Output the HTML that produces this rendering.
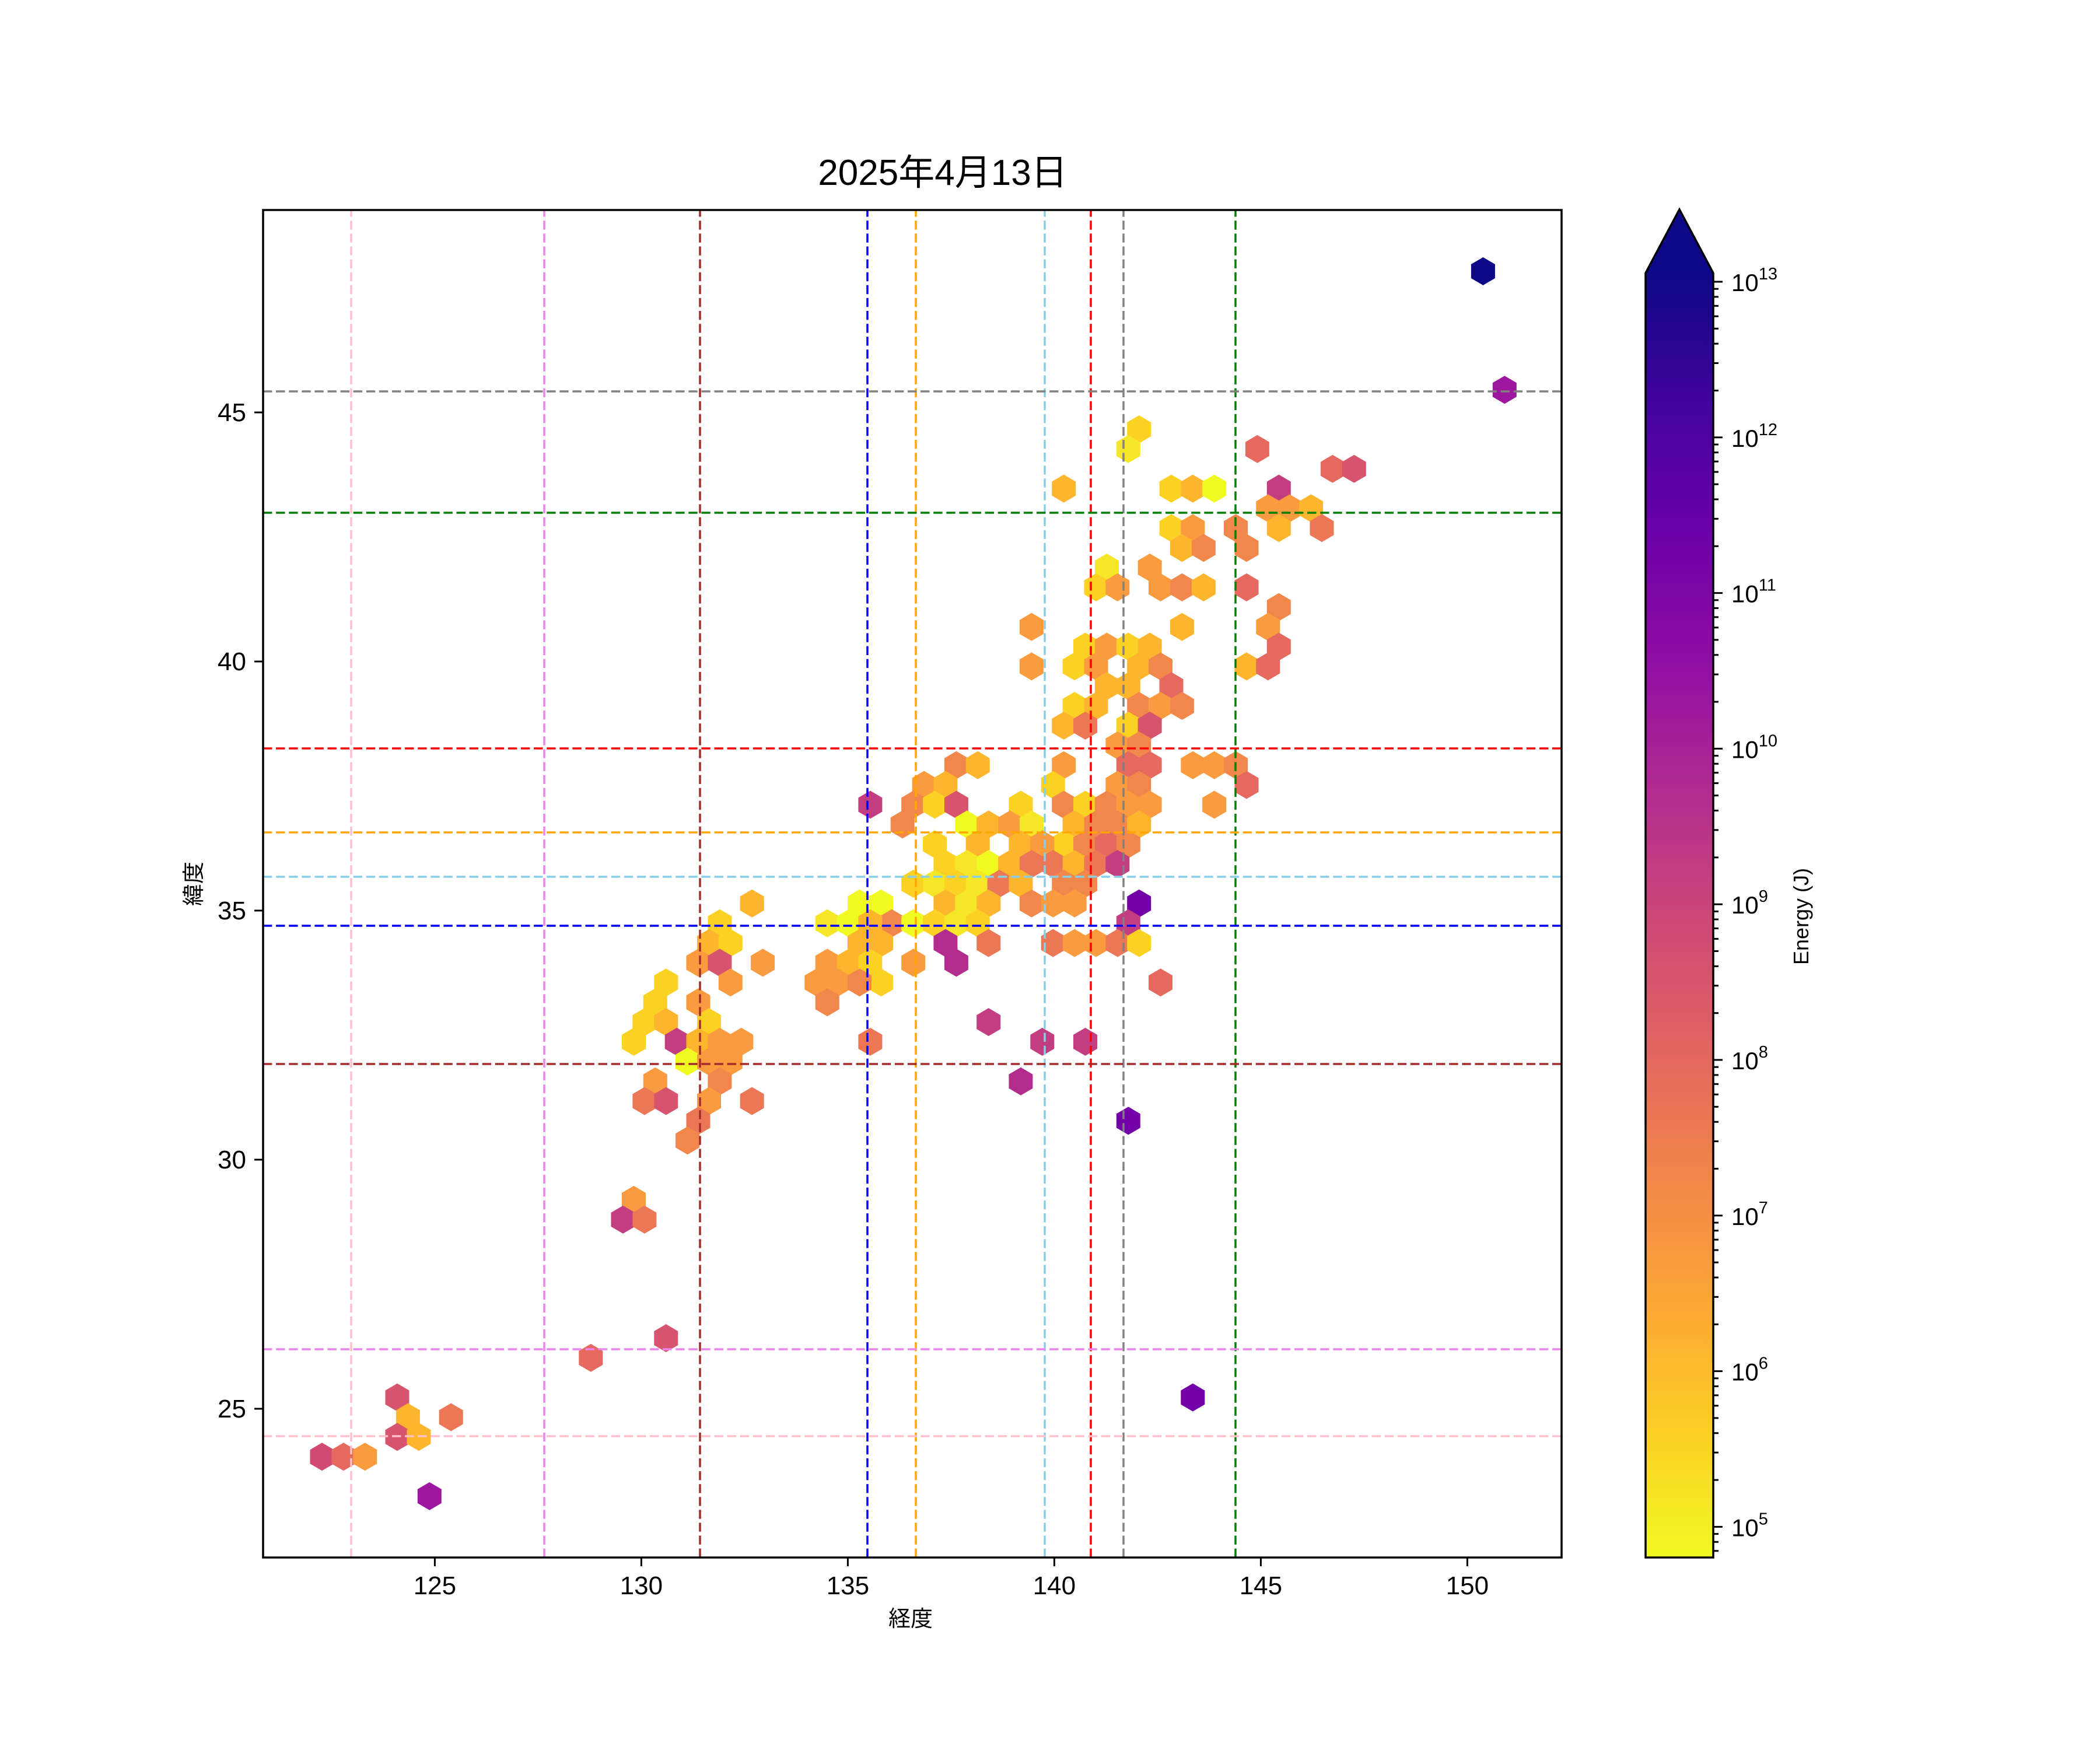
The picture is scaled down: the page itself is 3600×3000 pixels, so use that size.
<!DOCTYPE html>
<html><head><meta charset="utf-8">
<style>html,body{margin:0;padding:0;background:#fff;}svg{display:block;}</style>
</head><body>
<svg id="s" xmlns="http://www.w3.org/2000/svg" width="3600" height="3000" viewBox="0 0 3600 3000">
<defs>
<linearGradient id="pl" x1="0" y1="1" x2="0" y2="0">
<stop offset="0" stop-color="#f0f921"/><stop offset="0.1" stop-color="#fcce25"/><stop offset="0.2" stop-color="#fca636"/>
<stop offset="0.3" stop-color="#f2844b"/><stop offset="0.4" stop-color="#e16462"/><stop offset="0.5" stop-color="#cc4778"/>
<stop offset="0.6" stop-color="#b12a90"/><stop offset="0.7" stop-color="#8f0da4"/><stop offset="0.8" stop-color="#6a00a8"/>
<stop offset="0.9" stop-color="#41049d"/><stop offset="1" stop-color="#0d0887"/>
</linearGradient>
</defs>
<rect width="3600" height="3000" fill="#fff"/>
<g id="hex"></g>
<g id="lines" fill="none" stroke-width="3.5" stroke-dasharray="15.4 6.7">
<line x1="602" y1="2670" x2="602" y2="360" stroke="#ffc0cb"/>
<line x1="933" y1="2670" x2="933" y2="360" stroke="#ee82ee"/>
<line x1="1200" y1="2670" x2="1200" y2="360" stroke="#a52a2a"/>
<line x1="1487" y1="2670" x2="1487" y2="360" stroke="#0000ff"/>
<line x1="1570" y1="2670" x2="1570" y2="360" stroke="#ffa500"/>
<line x1="1791" y1="2670" x2="1791" y2="360" stroke="#87ceeb"/>
<line x1="1870" y1="2670" x2="1870" y2="360" stroke="#ff0000"/>
<line x1="1926" y1="2670" x2="1926" y2="360" stroke="#808080"/>
<line x1="2118" y1="2670" x2="2118" y2="360" stroke="#008000"/>
<line x1="451" y1="671" x2="2677" y2="671" stroke="#808080"/>
<line x1="451" y1="879" x2="2677" y2="879" stroke="#008000"/>
<line x1="451" y1="1283" x2="2677" y2="1283" stroke="#ff0000"/>
<line x1="451" y1="1427" x2="2677" y2="1427" stroke="#ffa500"/>
<line x1="451" y1="1503" x2="2677" y2="1503" stroke="#87ceeb"/>
<line x1="451" y1="1587" x2="2677" y2="1587" stroke="#0000ff"/>
<line x1="451" y1="1824" x2="2677" y2="1824" stroke="#a52a2a"/>
<line x1="451" y1="2313" x2="2677" y2="2313" stroke="#ee82ee"/>
<line x1="451" y1="2462" x2="2677" y2="2462" stroke="#ffc0cb"/>
</g>
<rect x="451" y="360" width="2226" height="2310" fill="none" stroke="#000" stroke-width="3.5"/>
<g id="ticks" stroke="#000" stroke-width="3"></g>
<g id="labels" font-family="Liberation Sans, DejaVu Sans, sans-serif" font-size="44" fill="#000"></g>
<text x="1616" y="317" font-family="Liberation Sans, Noto Sans CJK JP, sans-serif" font-size="62" text-anchor="middle">2025年4月13日</text>
<text x="1561" y="2788" font-family="Liberation Sans, Noto Sans CJK JP, sans-serif" font-size="38" text-anchor="middle">経度</text>
<text transform="translate(345,1515) rotate(-90)" font-family="Liberation Sans, Noto Sans CJK JP, sans-serif" font-size="38" text-anchor="middle">緯度</text>
<text transform="translate(3100,1571) rotate(-90)" font-family="Liberation Sans, DejaVu Sans, sans-serif" font-size="36" text-anchor="middle">Energy (J)</text>
<rect x="2821" y="468" width="116" height="2202" fill="url(#pl)"/>
<polygon points="2821,470 2879,359 2937,470" fill="#0d0887"/>
<polygon points="2821,2670 2821,468 2879,359 2937,468 2937,2670" fill="none" stroke="#000" stroke-width="3.5"/>
<g id="cb" stroke="#000" stroke-width="3"></g>
<g id="cbl" font-family="Liberation Sans, DejaVu Sans, sans-serif" fill="#000"></g>
</svg>
<script>
var C={Y1:'#f0f921',Y15:'#f5e627',Y2:'#fbd124',O1:'#fdb52e',O2:'#f99b3e',O3:'#f2874c',R0:'#eb7756',R1:'#e5695f',P1:'#d6546e',P0:'#cf4b74',M1:'#c33e80',M2:'#b22c8e',V1:'#9c179e',V2:'#7201a8',D:'#0d0887'};
var H=[
[1953,735,'Y2'],[1935,770,'Y15'],[2156,770,'R1'],[2285,803,'R1'],[2322,803,'P1'],
[1824,837,'O1'],[2009,837,'Y2'],[2045,837,'O1'],[2082,837,'Y1'],[2193,837,'M1'],
[2174,872,'O2'],[2211,872,'O2'],[2249,872,'O1'],
[2009,905,'Y2'],[2045,905,'O2'],[2120,905,'O3'],[2193,905,'O1'],[2267,905,'R0'],
[2027,939,'O1'],[2064,939,'O3'],[2138,939,'O3'],
[1898,973,'Y15'],[1972,973,'O2'],
[1879,1007,'Y2'],[1917,1007,'O2'],[1990,1007,'O2'],[2027,1007,'O3'],[2064,1007,'O1'],[2138,1007,'R1'],
[2193,1040,'O3'],[2027,1074,'O1'],[2174,1074,'O2'],
[1861,1108,'Y2'],[1898,1108,'O2'],[1934,1108,'Y2'],[1971,1108,'O1'],[2193,1108,'R1'],
[1842,1142,'Y2'],[1879,1142,'O2'],[1952,1142,'O1'],[1990,1142,'O3'],[2138,1142,'O1'],[2174,1142,'R1'],
[1898,1177,'O1'],[1934,1177,'O1'],[2008,1177,'R1'],
[1842,1210,'Y2'],[1879,1210,'O1'],[1952,1210,'O3'],[1990,1210,'O2'],[2027,1210,'O3'],
[1823,1243,'O1'],[1861,1243,'R0'],[1934,1243,'Y2'],[1971,1243,'P1'],
[1917,1278,'O2'],[1952,1278,'O3'],
[1823,1312,'O2'],[1934,1312,'R1'],[1971,1312,'R1'],[2046,1312,'O2'],[2082,1312,'O2'],[2119,1312,'O3'],
[1804,1345,'Y2'],[1917,1345,'O2'],[1952,1345,'O3'],[2138,1345,'R1'],
[1823,1380,'O3'],[1861,1380,'Y2'],[1898,1380,'O3'],[1934,1380,'O2'],[1971,1380,'O2'],[2082,1380,'O2'],
[1842,1413,'O1'],[1879,1413,'O3'],[1917,1413,'O3'],[1952,1413,'O1'],
[1823,1447,'Y2'],[1861,1447,'O3'],[1898,1447,'R1'],[1934,1447,'O3'],
[1640,1312,'O3'],[1677,1312,'O1'],
[1584,1346,'O2'],[1621,1346,'O1'],[1806,1346,'Y2'],
[1490,1378,'M1'],[1561,1379,'O3'],[1603,1379,'Y2'],[1640,1379,'P1'],[1750,1379,'Y2'],
[1548,1413,'O3'],[1657,1413,'Y1'],[1695,1413,'O1'],[1730,1413,'O2'],[1768,1413,'Y15'],
[1603,1447,'Y2'],[1677,1447,'O1'],[1750,1447,'O1'],[1787,1447,'O2'],
[1621,1480,'Y2'],[1657,1480,'Y15'],[1695,1480,'Y1'],[1730,1480,'O1'],[1768,1480,'R0'],[1806,1480,'R0'],[1842,1480,'O1'],[1878,1480,'R0'],[1915,1480,'M1'],
[1566,1515,'Y2'],[1603,1515,'Y15'],[1640,1515,'Y2'],[1677,1515,'Y15'],[1713,1515,'R0'],[1750,1515,'O1'],[1823,1515,'O3'],[1861,1515,'O3'],
[1511,1548,'Y1'],[1621,1548,'O1'],[1657,1548,'Y15'],[1695,1548,'O1'],[1768,1548,'O3'],[1806,1548,'O2'],[1842,1548,'O2'],[1953,1548,'V2'],
[1528,1582,'O3'],[1566,1582,'Y1'],[1603,1582,'Y2'],[1640,1582,'Y15'],[1677,1582,'Y2'],[1933,1582,'M1'],
[1510,1617,'O1'],[1621,1617,'M2'],[1695,1617,'R0'],[1806,1617,'R0'],[1842,1617,'O2'],[1878,1617,'O2'],[1915,1617,'R0'],[1953,1617,'Y2'],
[1566,1650,'O2'],[1640,1650,'M2'],
[1511,1683,'Y2'],[1990,1683,'R1'],
[1695,1743,'M1'],
[1289,1548,'O1'],[1473,1548,'Y1'],
[1233,1582,'Y2'],[1418,1582,'Y15'],[1455,1582,'Y1'],[1492,1582,'O1'],[1529,1582,'O3'],
[1216,1617,'O1'],[1252,1617,'Y2'],[1473,1617,'O1'],
[1197,1650,'O2'],[1233,1650,'P1'],[1308,1650,'O2'],[1418,1650,'O2'],[1455,1650,'O1'],[1492,1650,'Y2'],
[1142,1683,'Y2'],[1252,1683,'O2'],[1398,1683,'O2'],[1437,1683,'O2'],[1473,1683,'O3'],
[1123,1718,'Y2'],[1197,1718,'O2'],[1418,1718,'O3'],
[1105,1752,'Y2'],[1142,1752,'O1'],[1216,1752,'Y2'],
[1087,1785,'Y2'],[1160,1785,'M1'],[1197,1785,'O1'],[1233,1785,'O2'],[1271,1785,'O2'],[1492,1785,'R0'],
[1178,1820,'Y1'],[1216,1820,'O2'],[1252,1820,'O2'],
[1123,1853,'O2'],[1233,1853,'O3'],
[1105,1887,'R0'],[1142,1887,'P1'],[1216,1887,'O2'],[1289,1887,'R0'],
[1197,1920,'R0'],[1178,1955,'O3'],
[1765,1072,'O2'],[1765,1141,'O2'],
[1783,1786,'M1'],[1857,1786,'M1'],[1747,1853,'M2'],[1930,1922,'V2'],
[1082,2057,'O2'],[1064,2092,'M1'],[1101,2092,'R0'],[1137,2294,'P1'],[1009,2328,'R1'],[2040,2395,'V2'],
[680,2396,'P1'],[699,2428,'O1'],[773,2429,'R0'],[680,2463,'P1'],[717,2463,'O1'],
[552,2497,'P0'],[588,2497,'R1'],[625,2497,'O2'],[736,2565,'V1'],
[2544,465,'D'],[2580,668,'V1']
];
var NS='http://www.w3.org/2000/svg';
function el(t,a,p){var e=document.createElementNS(NS,t);for(var k in a)e.setAttribute(k,a[k]);p.appendChild(e);return e;}
var seen={},cells=[];
H.forEach(function(h){
 var r=Math.round((h[1]-465)/33.87);var off=(Math.abs(r)%2==1)?18.43:0;
 var j=Math.round((h[0]-552-off)/36.86);var key=r+'_'+j;
 if(seen[key]===undefined){seen[key]=cells.length;cells.push([552+off+36.86*j,465+33.87*r,h[2]]);}
});
var g=document.getElementById('hex');
cells.forEach(function(c){
 var x=c[0],y=c[1],a=20.5,b=24,b2=12;
 var p=[[x,y-b],[x+a,y-b2],[x+a,y+b2],[x,y+b],[x-a,y+b2],[x-a,y-b2]].map(function(q){return q[0].toFixed(1)+','+q[1].toFixed(1);}).join(' ');
 el('polygon',{points:p,fill:C[c[2]]},g);
});
var tk=document.getElementById('ticks'),lb=document.getElementById('labels');
[125,130,135,140,145,150].forEach(function(v){
 var x=745.4+(v-125)*70.8;
 el('line',{x1:x,y1:2670,x2:x,y2:2685},tk);
 var t=el('text',{x:x,y:2733,'text-anchor':'middle'},lb);t.textContent=v;
});
[25,30,35,40,45].forEach(function(v){
 var y=707+(45-v)*85.4;
 el('line',{x1:436,y1:y,x2:451,y2:y},tk);
 var t=el('text',{x:422,y:y+15,'text-anchor':'end'},lb);t.textContent=v;
});
var cb=document.getElementById('cb'),cbl=document.getElementById('cbl');
for(var d=4;d<=13;d++){
 for(var m=1;m<=9;m++){
  var lg=d+Math.log10(m);if(lg<4.8||lg>13.056)continue;
  var y=483+(13-lg)*266.8;
  if(m==1){
   el('line',{x1:2937,y1:y,x2:2953,y2:y},cb);
   var t=el('text',{x:2968,y:y+16,'font-size':'42'},cbl);
   t.appendChild(document.createTextNode('10'));
   var s=el('tspan',{'font-size':'29',dy:'-20'},t);s.textContent=String(d);
  } else el('line',{x1:2937,y1:y,x2:2946,y2:y},cb);
 }
}
</script>
</body></html>
